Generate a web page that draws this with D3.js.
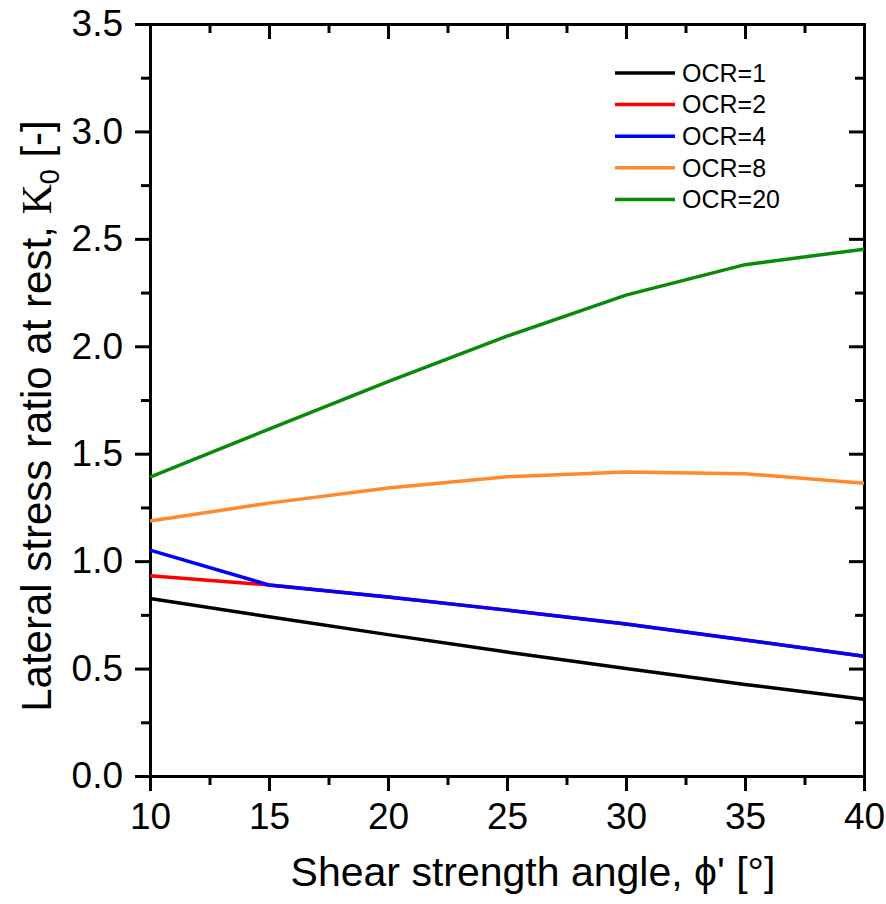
<!DOCTYPE html>
<html>
<head>
<meta charset="utf-8">
<script src="https://cdn.jsdelivr.net/npm/d3@7"></script>
<style>
  body { margin: 0; background: #fff; }
  text { font-family: "Liberation Sans", Arial, sans-serif; }
</style>
</head>
<body>
<svg id="chart"></svg>
<script>
// data
var phi = [10, 15, 20, 25, 30, 35, 40];
var ocr1  = [0.826, 0.741, 0.658, 0.577, 0.500, 0.426, 0.357];
var ocr2  = [0.932, 0.889, 0.833, 0.772, 0.707, 0.633, 0.557];
var ocr4  = [1.051, 0.889, 0.833, 0.772, 0.707, 0.633, 0.557];
var ocr8  = [1.187, 1.270, 1.340, 1.393, 1.415, 1.407, 1.362];
var ocr20 = [1.391, 1.615, 1.835, 2.047, 2.238, 2.380, 2.452];
var seriesNames = ['OCR=1', 'OCR=2', 'OCR=4', 'OCR=8', 'OCR=20'];
var seriesValues = [ocr1, ocr2, ocr4, ocr8, ocr20];
var seriesColors = ['#000000', '#ff0000', '#0000ff', '#ff8a2e', '#0a8a0a'];
var xTicks = [10, 15, 20, 25, 30, 35, 40];
var yTicks = [0, 0.5, 1.0, 1.5, 2.0, 2.5, 3.0, 3.5];

var W = 886, H = 904;
var margin = {top: 24, right: 22, bottom: 128, left: 150},
    width = W - margin.left - margin.right,
    height = H - margin.top - margin.bottom;

var svg = d3.select('#chart').attr('width', W).attr('height', H)
  .append('g')
  .attr('transform', 'translate(' + margin.left + ',' + margin.top + ')');

var x = d3.scaleLinear().domain([10, 40]).range([0, width]);
var y = d3.scaleLinear().domain([0, 3.5]).range([height, 0]);

var xMinor = d3.range(12.5, 40, 5);
var yMinor = d3.range(0.25, 3.5, 0.5);

function styleAxis(g) {
  g.selectAll('path').attr('stroke-width', 3).attr('stroke', '#000');
  g.selectAll('line').attr('stroke-width', 3).attr('stroke', '#000');
  g.selectAll('text').style('font-size', '37px').attr('fill', '#000');
}

// bottom
svg.append('g').attr('transform', 'translate(0,' + height + ')')
  .call(d3.axisBottom(x).tickValues(xTicks).tickSize(15).tickPadding(12).tickFormat(d3.format('d')))
  .call(styleAxis);
svg.append('g').attr('transform', 'translate(0,' + height + ')')
  .call(d3.axisBottom(x).tickValues(xMinor).tickSize(9).tickFormat(''))
  .call(styleAxis).select('.domain').remove();
// left
svg.append('g')
  .call(d3.axisLeft(y).tickValues(yTicks).tickSize(15).tickPadding(12).tickFormat(d3.format('.1f')))
  .call(styleAxis);
svg.append('g')
  .call(d3.axisLeft(y).tickValues(yMinor).tickSize(9).tickFormat(''))
  .call(styleAxis).select('.domain').remove();
// top (ticks inward)
svg.append('g')
  .call(d3.axisTop(x).tickValues(xTicks).tickSize(-15).tickFormat(''))
  .call(styleAxis);
svg.append('g')
  .call(d3.axisTop(x).tickValues(xMinor).tickSize(-9).tickFormat(''))
  .call(styleAxis).select('.domain').remove();
// right (ticks inward)
svg.append('g').attr('transform', 'translate(' + width + ',0)')
  .call(d3.axisRight(y).tickValues(yTicks).tickSize(-15).tickFormat(''))
  .call(styleAxis);
svg.append('g').attr('transform', 'translate(' + width + ',0)')
  .call(d3.axisRight(y).tickValues(yMinor).tickSize(-9).tickFormat(''))
  .call(styleAxis).select('.domain').remove();

// lines
var line = d3.line()
  .x(function(d, i) { return x(phi[i]); })
  .y(function(d) { return y(d); });

seriesValues.forEach(function(vals, i) {
  svg.append('path')
    .datum(vals)
    .attr('d', line)
    .attr('fill', 'none')
    .attr('stroke', seriesColors[i])
    .attr('stroke-width', 3.5);
});

// legend
var legend = svg.append('g').attr('transform', 'translate(' + (615 - margin.left) + ',' + (73 - margin.top) + ')');
seriesNames.forEach(function(name, i) {
  var row = legend.append('g').attr('transform', 'translate(0,' + (i * 31.6) + ')');
  row.append('line')
    .attr('x1', 0).attr('x2', 60).attr('y1', 0).attr('y2', 0)
    .attr('stroke', seriesColors[i]).attr('stroke-width', 3.5);
  row.append('text')
    .attr('x', 67).attr('y', 0).attr('dy', '0.35em')
    .style('font-size', '25px')
    .text(name);
});

// axis titles
svg.append('text')
  .attr('x', 533 - margin.left)
  .attr('y', 886 - margin.top)
  .attr('text-anchor', 'middle')
  .style('font-size', '41px')
  .text("Shear strength angle, \u03d5' [\u00b0]");

var yt = svg.append('text')
  .attr('transform', 'translate(' + (51 - margin.left) + ',' + (416 - margin.top) + ') rotate(-90)')
  .attr('text-anchor', 'middle')
  .style('font-size', '42px');
yt.append('tspan').text('Lateral stress ratio at rest, ');
yt.append('tspan').style('font-family', '"Liberation Serif", serif').text('K');
yt.append('tspan').attr('dy', 8).style('font-size', '27px').text('0');
yt.append('tspan').attr('dy', -8).text(' [-]');
</script>
</body>
</html>
